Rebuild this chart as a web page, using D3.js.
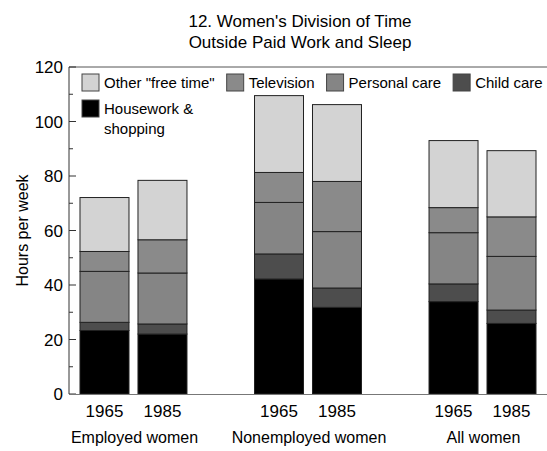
<!DOCTYPE html>
<html>
<head>
<meta charset="utf-8">
<script src="https://cdn.jsdelivr.net/npm/d3@7"></script>
<style>
	body { margin: 0; background: #fff; }
	text { font-family: "Liberation Sans", Arial, sans-serif; fill: #000; }
</style>
</head>
<body>
<svg id="chart" width="547" height="451"></svg>
<script>
var groups = ['Employed women', 'Nonemployed women', 'All women'];
var years = ['1965', '1985'];

// stacked bottom to top
var seriesNames = ['Housework & shopping', 'Child care', 'Personal care', 'Television', 'Other "free time"'];
var seriesColors = ['#000000', '#4d4d4d', '#858585', '#8a8a8a', '#d3d3d3'];

// one value per bar: employed 65, 85, nonemployed 65, 85, all 65, 85
var housework    = [23.3, 22.0, 42.2, 31.8, 33.9, 25.9];
var childCare    = [3.0, 3.7, 9.2, 7.1, 6.5, 4.9];
var personalCare = [18.7, 18.7, 18.9, 20.7, 18.8, 19.7];
var television   = [7.3, 12.2, 11.0, 18.4, 9.2, 14.5];
var otherFree    = [19.8, 21.8, 28.2, 28.2, 24.6, 24.3];

var yTicks = [0, 20, 40, 60, 80, 100, 120];
var yMinorTicks = [10, 30, 50, 70, 90, 110];

var width = 547, height = 451;
var margin = { left: 69, right: 0, top: 67, bottom: 57 };

var svg = d3.select('#chart');

var seriesValues = [housework, childCare, personalCare, television, otherFree];
var rows = [];
groups.forEach(function(g, gi) {
	years.forEach(function(y, yi) {
		var i = gi * years.length + yi;
		var row = { group: g, year: y };
		seriesNames.forEach(function(s, si) { row[s] = seriesValues[si][i]; });
		rows.push(row);
	});
});

var x0 = d3.scaleBand()
	.domain(groups)
	.range([margin.left, width - margin.right])
	.paddingInner(0.387)
	.paddingOuter(0.063);

var x1 = d3.scaleBand()
	.domain(years)
	.range([0, x0.bandwidth()])
	.paddingInner(0.155);

var y = d3.scaleLinear()
	.domain([0, 120])
	.range([height - margin.bottom, margin.top]);

var stack = d3.stack().keys(seriesNames);
var layers = stack(rows);

// title
var title = svg.append('text')
	.attr('text-anchor', 'middle')
	.style('font-size', '17px');
title.append('tspan').attr('x', 300).attr('y', 27).text("12. Women's Division of Time");
title.append('tspan').attr('x', 300).attr('y', 48).text('Outside Paid Work and Sleep');

// frame line on top
svg.append('line')
	.attr('x1', margin.left).attr('x2', width)
	.attr('y1', y(120)).attr('y2', y(120))
	.attr('stroke', '#555').attr('stroke-width', 1);

// bars
var layerG = svg.selectAll('.layer')
	.data(layers)
	.enter().append('g')
		.attr('class', 'layer')
		.attr('fill', function(d, i) { return seriesColors[i]; });

layerG.selectAll('rect')
	.data(function(d) { return d; })
	.enter().append('rect')
		.attr('x', function(d) { return x0(d.data.group) + x1(d.data.year); })
		.attr('y', function(d) { return y(d[1]); })
		.attr('width', x1.bandwidth())
		.attr('height', function(d) { return y(d[0]) - y(d[1]); })
		.attr('stroke', '#222')
		.attr('stroke-width', 1);

// y axis
var yAxis = svg.append('g')
	.attr('transform', 'translate(' + margin.left + ',0)');

yAxis.append('line')
	.attr('x1', 0).attr('x2', 0)
	.attr('y1', y(120)).attr('y2', y(0))
	.attr('stroke', '#333');

yAxis.selectAll('.major')
	.data(yTicks)
	.enter().append('line')
		.attr('x1', 0).attr('x2', 7)
		.attr('y1', function(d) { return y(d); })
		.attr('y2', function(d) { return y(d); })
		.attr('stroke', '#333');

yAxis.selectAll('.minor')
	.data(yMinorTicks)
	.enter().append('line')
		.attr('x1', 0).attr('x2', 4)
		.attr('y1', function(d) { return y(d); })
		.attr('y2', function(d) { return y(d); })
		.attr('stroke', '#333');

yAxis.selectAll('.tlabel')
	.data(yTicks)
	.enter().append('text')
		.attr('x', -6)
		.attr('y', function(d) { return y(d); })
		.attr('dy', '0.36em')
		.attr('text-anchor', 'end')
		.style('font-size', '17px')
		.text(function(d) { return d; });

svg.append('text')
	.attr('transform', 'translate(28,' + (y(0) + y(120)) / 2 + ') rotate(-90)')
	.attr('text-anchor', 'middle')
	.style('font-size', '16px')
	.text('Hours per week');

// x axis baseline
svg.append('line')
	.attr('x1', margin.left).attr('x2', width)
	.attr('y1', y(0) + 0.5).attr('y2', y(0) + 0.5)
	.attr('stroke', '#777');

// year labels
svg.selectAll('.year')
	.data(rows)
	.enter().append('text')
		.attr('x', function(d) { return x0(d.group) + x1(d.year) + x1.bandwidth() / 2; })
		.attr('y', 417)
		.attr('text-anchor', 'middle')
		.style('font-size', '17px')
		.text(function(d) { return d.year; });

svg.selectAll('.group')
	.data(groups)
	.enter().append('text')
		.attr('x', function(d) { return x0(d) + x0.bandwidth() / 2 + 1; })
		.attr('y', 443)
		.attr('text-anchor', 'middle')
		.style('font-size', '16px')
		.text(function(d) { return d; });

// legend
var legendOrder = [4, 3, 2, 1];
var legend = svg.append('g');
var lx = 82;
legendOrder.forEach(function(si) {
	legend.append('rect')
		.attr('x', lx).attr('y', 74)
		.attr('width', 17).attr('height', 17)
		.attr('fill', seriesColors[si])
		.attr('stroke', '#444');
	var t = legend.append('text')
		.attr('x', lx + 22).attr('y', 88)
		.style('font-size', '15px')
		.text(seriesNames[si]);
	lx += 22 + t.node().getComputedTextLength() + 12;
});

legend.append('rect')
	.attr('x', 82).attr('y', 100)
	.attr('width', 17).attr('height', 17)
	.attr('fill', seriesColors[0])
	.attr('stroke', '#444');
var hw = legend.append('text')
	.style('font-size', '15px');
hw.append('tspan').attr('x', 104).attr('y', 114).text('Housework &');
hw.append('tspan').attr('x', 104).attr('y', 134).text('shopping');
</script>
</body>
</html>
